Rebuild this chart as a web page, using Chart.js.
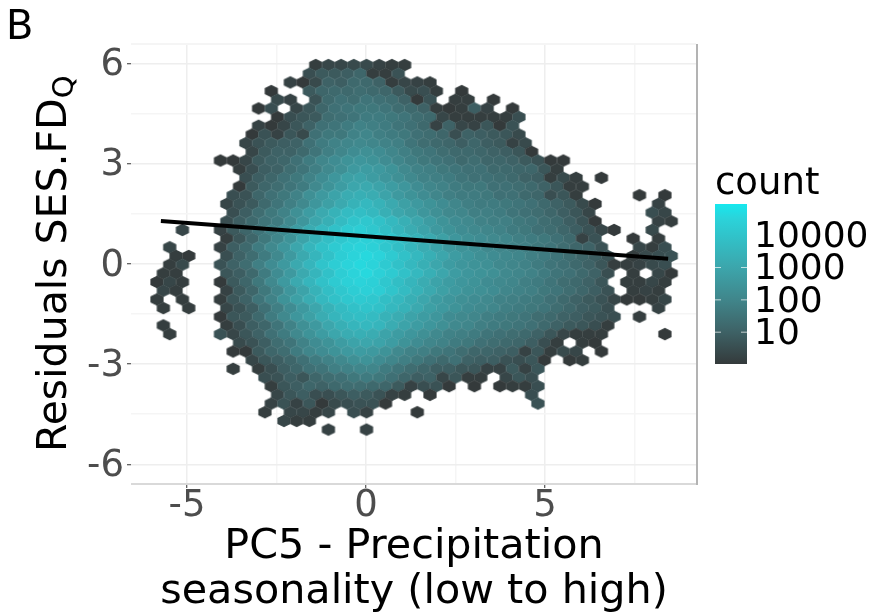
<!DOCTYPE html>
<html>
<head>
    <title>Residuals vs PC5</title>
    <script src="https://cdn.jsdelivr.net/npm/chart.js"></script>
    <style>
        body { margin: 0; background: #fff; }
        canvas { display: block; }
    </style>
</head>
<body>
    <canvas id="hexChart" width="872" height="615"></canvas>
    <script>
        var _ = null;

        var xTickValues = [-5, -2.5, 0, 2.5, 5, 7.5];
        var xTickLabels = { '-5': '-5', '0': '0', '5': '5' };
        var yTickValues = [-6, -4.5, -3, -1.5, 0, 1.5, 3, 4.5, 6];
        var yTickLabels = { '-6': '-6', '-3': '-3', '0': '0', '3': '3', '6': '6' };
        var legendCounts = [10, 100, 1000, 10000];
        var trendX = [-5.73, 8.44];
        var trendY = [1.29, 0.16];

        // centre of each hexagon row, top to bottom
        var rowY = [5.96, 5.70, 5.44, 5.18, 4.92, 4.66, 4.40, 4.14, 3.88, 3.62, 3.36, 3.10, 2.84, 2.58, 2.32,
            2.06, 1.80, 1.54, 1.28, 1.02, 0.76, 0.50, 0.24, -0.02, -0.28, -0.54, -0.80, -1.06, -1.32, -1.58,
            -1.84, -2.10, -2.36, -2.62, -2.88, -3.14, -3.40, -3.66, -3.92, -4.18, -4.44, -4.70, -4.96];
        var evenRowX = -1.405;
        var oddRowX = -1.5825;
        var columnStep = 0.3547;

        // first occupied column of each row
        var rowStart = [0, 0, -2, -3, -3, -4, -3, -4, -5, -5, -5, -7, -6, -5, -6, -6, -7, -6, -7, -10, -7, -11,
            -11, -11, -12, -12, -12, -12, -12, -7, -12, -11, -6, -6, -5, -6, -4, -3, -3, -3, -4, -2, 1];

        var rowLogCount = [
            [1,3,3,4,4,2,1,1],
            [5,8,8,9,11,1,1,6],
            [2,0,4,10,9,12,12,10,1,3,2,1],
            [0,_,_,8,11,12,12,13,12,11,8,4,5,1,_,0],
            [4,2,_,6,12,14,13,15,14,13,10,0,6,_,1,1,_,0],
            [0,5,_,3,7,11,14,15,16,16,15,13,12,10,1,0,1,9,2,_,0],
            [0,5,7,8,13,14,15,17,17,16,15,13,12,3,1,1,1,1,1,5],
            [2,0,3,7,10,14,15,17,19,18,17,15,14,12,2,10,3,2,7,0,6],
            [0,6,2,7,4,14,16,16,19,20,18,17,16,14,13,11,5,10,9,8,7,4],
            [3,6,8,9,10,14,17,19,20,21,20,19,18,15,13,12,11,9,11,9,8,2,4],
            [3,8,10,10,12,15,18,20,22,23,22,20,18,16,15,13,12,12,11,10,9,7,0],
            [0,0,3,8,10,11,14,17,20,22,24,25,24,22,20,18,16,15,14,12,13,11,11,10,8,6,0,0],
            [1,5,9,10,13,15,18,21,23,26,27,26,24,21,19,18,16,15,14,14,12,12,11,11,7,1],
            [5,9,11,14,16,19,22,25,28,29,27,25,23,21,19,18,17,15,14,14,13,12,10,9,1,4,1,_,0],
            [0,8,11,13,15,17,21,24,27,30,31,29,27,25,22,20,19,17,16,16,14,14,13,12,10,7,1,1],
            [5,6,11,14,16,19,23,26,29,32,33,32,29,26,24,22,20,18,17,17,16,14,14,12,11,5,7,1,_,_,_,_,0,_,0],
            [3,6,8,12,15,18,21,25,28,31,34,36,34,31,28,26,24,22,20,18,17,17,16,15,14,12,10,8,4,0,_,_,_,_,2],
            [5,9,13,16,19,23,27,31,34,37,38,36,33,30,28,25,23,21,20,18,18,17,15,14,13,11,9,7,3,_,_,_,_,5,3],
            [5,9,12,15,17,21,25,30,33,37,40,41,39,36,33,30,27,24,22,21,19,18,18,16,15,13,12,9,6,0,_,_,_,_,2,1],
            [3,_,_,2,8,11,15,19,22,27,32,36,39,42,43,41,38,35,32,29,26,24,22,21,20,19,17,16,14,13,11,9,6,3,0,_,_,4],
            [1,7,11,16,20,24,29,34,38,41,43,44,43,40,37,34,31,28,25,23,22,21,20,18,17,16,14,12,2,6,_,_,0,_,1],
            [3,_,_,_,2,9,12,17,21,25,30,35,39,42,44,45,44,41,38,35,32,29,26,24,23,21,20,19,18,16,15,13,11,10,6,_,_,3,1,5],
            [1,0,_,_,5,10,13,17,21,26,31,35,39,43,45,46,45,42,39,36,33,30,27,25,23,22,21,20,18,17,15,13,11,9,6,_,1,4,5,6],
            [1,4,_,_,6,10,13,18,22,26,31,35,40,43,45,46,45,42,39,36,33,30,27,25,24,23,21,20,19,17,15,14,12,10,7,1,1,2,4,5],
            [1,1,_,_,_,7,9,12,17,22,26,31,35,39,43,45,46,44,42,39,36,33,30,27,25,24,23,21,20,19,17,15,14,12,10,5,_,1,_,3,0],
            [0,3,1,_,_,0,8,11,16,21,26,31,35,39,42,44,45,44,41,38,35,32,29,27,25,24,22,21,20,18,17,15,13,12,10,7,_,1,1,3,1],
            [3,1,_,_,_,2,8,11,16,20,25,29,34,38,41,43,44,43,40,37,34,31,28,26,24,23,22,20,19,18,16,15,13,11,9,6,_,1,2,1],
            [1,_,1,_,_,1,7,10,15,19,24,28,32,36,39,41,42,41,38,36,33,30,27,25,23,22,21,19,18,17,16,14,12,10,8,6,3,0,0,1,3],
            [1,_,1,_,_,3,6,9,14,18,22,26,30,34,37,39,40,39,36,34,31,28,26,24,22,21,20,18,17,16,15,13,11,9,8,5,_,_,_,2],
            [0,7,8,12,17,21,25,28,32,35,37,38,37,34,32,29,27,25,22,21,20,18,17,16,15,13,12,10,9,7,6,5,_,1],
            [1,_,_,_,_,1,5,9,11,15,19,23,26,30,33,35,36,35,32,29,27,25,23,21,20,18,17,16,15,14,12,10,8,7,5,1],
            [1,_,_,_,6,3,7,10,14,17,21,24,27,30,32,33,32,29,27,25,23,21,19,18,17,15,14,13,12,10,7,3,1,1,1,_,_,_,_,0],
            [4,6,9,13,15,19,22,24,27,29,30,29,27,24,22,20,19,17,16,14,13,12,11,9,5,1,_,1,0],
            [0,0,8,11,13,17,20,22,24,26,27,26,24,21,19,18,16,15,13,11,11,10,9,2,7,1,4,3,_,0],
            [3,7,9,11,14,17,19,21,23,24,22,20,18,16,14,12,14,10,9,9,6,5,7,0,_,0,1],
            [1,_,1,5,9,11,14,15,18,19,20,20,17,15,13,11,9,9,7,7,2,2,8,2,7],
            [5,6,9,7,11,13,14,16,17,16,14,11,9,10,3,7,1,1,_,3,7,5],
            [1,7,9,11,10,12,13,13,12,11,8,2,5,6,0,_,0,_,0,1,1,5],
            [3,7,9,5,5,7,9,8,6,2,1,_,0,_,_,_,_,_,_,_,5],
            [2,6,2,7,0,4,5,6,6,0,_,_,_,_,_,_,_,_,_,_,_,6],
            [1,_,3,3,1,3,_,5,2,_,_,_,0],
            [3,1,1],
            [2,_,_,2]
        ];

        // colour ramp stops against log10(count) x 10
        var rampLevels = [0, 10, 20, 30, 40, 45, 49.5];
        var rampColors = [[52, 58, 59], [62, 98, 102], [64, 134, 139], [60, 166, 172], [48, 196, 203], [43, 211, 218], [23, 232, 238]];
        var maxLog = 49.5;

        function levelColor(level) {
            var i = 0;
            while (i < rampLevels.length - 2 && level > rampLevels[i + 1]) i++;
            var t = (level - rampLevels[i]) / (rampLevels[i + 1] - rampLevels[i]);
            var c = rampColors[i].map(function(v, k) {
                return Math.round(v + (rampColors[i + 1][k] - v) * t);
            });
            return 'rgb(' + c.join(',') + ')';
        }

        // pointy-top hexagon sprites, one per colour level
        var hexW = 13.2, hexH = 12.3;
        var sprites = {};
        function hexSprite(level) {
            if (sprites[level]) return sprites[level];
            var c = document.createElement('canvas');
            c.width = 16;
            c.height = 16;
            var g = c.getContext('2d');
            g.translate(8, 8);
            g.fillStyle = levelColor(level);
            g.beginPath();
            g.moveTo(0, -hexH / 2);
            g.lineTo(hexW / 2, -hexH / 4);
            g.lineTo(hexW / 2, hexH / 4);
            g.lineTo(0, hexH / 2);
            g.lineTo(-hexW / 2, hexH / 4);
            g.lineTo(-hexW / 2, -hexH / 4);
            g.closePath();
            g.fill();
            sprites[level] = c;
            return c;
        }

        var hexPoints = [];
        rowLogCount.forEach(function(row, r) {
            var x0 = r % 2 === 0 ? evenRowX : oddRowX;
            row.forEach(function(level, i) {
                if (level === null) return;
                hexPoints.push({ x: x0 + (rowStart[r] + i) * columnStep, y: rowY[r], level: level });
            });
        });

        var fontName = '"DejaVu Sans"';

        var annotations = {
            id: 'annotations',
            afterDraw: function(chart) {
                var ctx = chart.ctx;
                var area = chart.chartArea;

                // panel border, right side darker than the bottom
                ctx.save();
                ctx.lineWidth = 2;
                ctx.strokeStyle = '#d9d9d9';
                ctx.beginPath();
                ctx.moveTo(area.left, area.bottom);
                ctx.lineTo(area.right, area.bottom);
                ctx.stroke();
                ctx.strokeStyle = '#b3b3b3';
                ctx.beginPath();
                ctx.moveTo(area.right, area.bottom + 1);
                ctx.lineTo(area.right, area.top);
                ctx.stroke();
                ctx.strokeStyle = '#f5f5f5';
                ctx.beginPath();
                ctx.moveTo(area.left, area.top);
                ctx.lineTo(area.right - 1, area.top);
                ctx.stroke();
                ctx.restore();

                // panel letter
                ctx.save();
                ctx.fillStyle = '#000';
                ctx.font = '40px ' + fontName;
                ctx.textBaseline = 'alphabetic';
                ctx.fillText('B', 6, 39);
                ctx.restore();

                // y axis title with the subscript
                ctx.save();
                ctx.translate(66, 452);
                ctx.rotate(-Math.PI / 2);
                ctx.fillStyle = '#000';
                ctx.font = '41px ' + fontName;
                ctx.textBaseline = 'alphabetic';
                ctx.fillText('Residuals SES.FD', 0, 0);
                var w = ctx.measureText('Residuals SES.FD').width;
                ctx.font = '29px ' + fontName;
                ctx.fillText('Q', w, 7);
                ctx.restore();

                // colour bar legend
                var barLeft = 715, barRight = 747, barTop = 204, barBottom = 364;
                var grad = ctx.createLinearGradient(0, barBottom, 0, barTop);
                rampLevels.forEach(function(level) {
                    grad.addColorStop(level / maxLog, levelColor(level));
                });
                ctx.save();
                ctx.fillStyle = grad;
                ctx.fillRect(barLeft, barTop, barRight - barLeft, barBottom - barTop);
                ctx.fillStyle = '#000';
                ctx.font = '37px ' + fontName;
                ctx.textBaseline = 'alphabetic';
                ctx.fillText('count', 715, 194);
                ctx.font = '36px ' + fontName;
                ctx.textBaseline = 'middle';
                legendCounts.forEach(function(v) {
                    var y = barBottom - (barBottom - barTop) * Math.log10(v) * 10 / maxLog;
                    if (v < 10000) {
                        ctx.strokeStyle = 'rgba(255,255,255,0.7)';
                        ctx.lineWidth = 1;
                        ctx.beginPath();
                        ctx.moveTo(barLeft, y + 0.5);
                        ctx.lineTo(barLeft + 6, y + 0.5);
                        ctx.moveTo(barRight - 6, y + 0.5);
                        ctx.lineTo(barRight, y + 0.5);
                        ctx.stroke();
                    }
                    ctx.fillText(String(v), 754, y + 3);
                });
                ctx.restore();
            }
        };

        function gridColor(labels) {
            return function(c) { return c.tick && labels[c.tick.value] ? '#eeeeee' : '#f5f5f5'; };
        }

        new Chart(document.getElementById('hexChart').getContext('2d'), {
            type: 'scatter',
            data: {
                datasets: [{
                    label: 'fit',
                    type: 'line',
                    order: 0,
                    data: trendX.map(function(x, i) { return { x: x, y: trendY[i] }; }),
                    borderColor: '#000',
                    borderWidth: 4,
                    pointRadius: 0,
                    fill: false
                }, {
                    label: 'hexagons',
                    order: 1,
                    data: hexPoints,
                    pointRadius: 6,
                    pointHoverRadius: 6,
                    pointStyle: function(c) { return hexSprite(c.raw.level); }
                }]
            },
            options: {
                responsive: false,
                animation: false,
                layout: { padding: { left: 0, top: 44, right: 175, bottom: 0 } },
                plugins: { legend: { display: false }, tooltip: { enabled: false } },
                scales: {
                    x: {
                        type: 'linear',
                        min: -6.565,
                        max: 9.246,
                        afterBuildTicks: function(s) { s.ticks = xTickValues.map(function(v) { return { value: v }; }); },
                        afterFit: function(s) { s.height = 131; },
                        border: { display: false },
                        grid: {
                            color: gridColor(xTickLabels),
                            lineWidth: 1.5,
                            tickColor: function(c) { return xTickLabels[c.tick.value] ? '#333' : 'rgba(0,0,0,0)'; },
                            tickWidth: 1,
                            tickLength: 4
                        },
                        ticks: {
                            autoSkip: false,
                            maxRotation: 0,
                            padding: -4,
                            color: '#4d4d4d',
                            font: { family: fontName, size: 37 },
                            callback: function(v) { return xTickLabels[v] || ''; }
                        },
                        title: {
                            display: true,
                            text: ['PC5 - Precipitation', 'seasonality (low to high)'],
                            color: '#000',
                            font: { family: fontName, size: 41.3, lineHeight: 1.1 },
                            padding: { top: 0, bottom: 0 }
                        }
                    },
                    y: {
                        type: 'linear',
                        min: -6.59,
                        max: 6.59,
                        afterBuildTicks: function(s) { s.ticks = yTickValues.map(function(v) { return { value: v }; }); },
                        afterFit: function(s) { s.width = 131; },
                        border: { display: false },
                        grid: {
                            color: gridColor(yTickLabels),
                            lineWidth: 1.5,
                            tickColor: function(c) { return yTickLabels[c.tick.value] ? '#333' : 'rgba(0,0,0,0)'; },
                            tickWidth: 1,
                            tickLength: 4
                        },
                        ticks: {
                            autoSkip: false,
                            padding: 3,
                            labelOffset: 2,
                            color: '#4d4d4d',
                            font: { family: fontName, size: 37 },
                            callback: function(v) { return yTickLabels[v] || ''; }
                        }
                    }
                }
            },
            plugins: [annotations]
        });
    </script>
</body>
</html>
